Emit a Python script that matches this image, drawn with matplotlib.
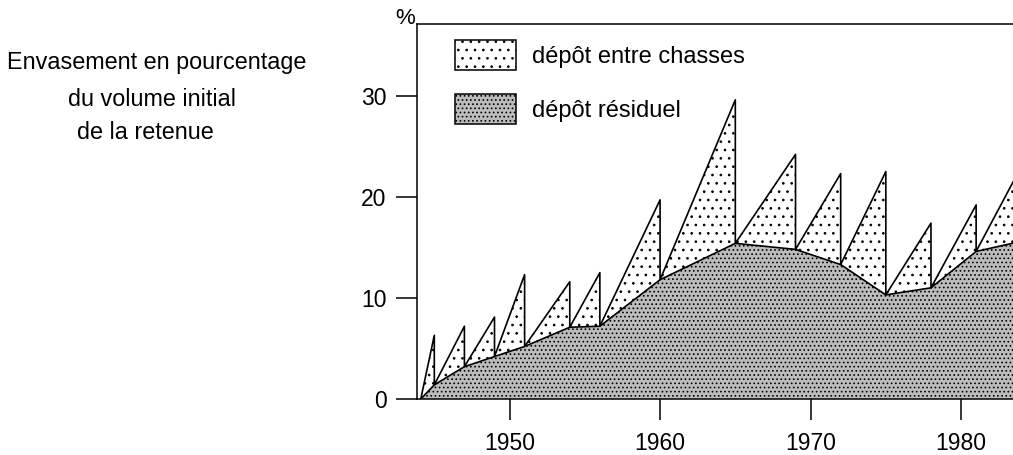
import matplotlib.pyplot as plt
from matplotlib.patches import Patch

# Envasement de la retenue : dépôt résiduel après chaque chasse et
# dépôt accumulé entre deux chasses (en % du volume initial)
start_year = 1944.1
flush_years = [1945, 1947, 1949, 1951, 1954, 1956, 1960, 1965, 1969, 1972, 1975, 1978, 1981, 1984]
peak = [6.3, 7.2, 8.1, 12.3, 11.6, 12.5, 19.7, 29.6, 24.2, 22.3, 22.5, 17.4, 19.2, 23.0]
residual = [1.4, 3.2, 4.2, 5.2, 7.1, 7.2, 11.8, 15.4, 14.8, 13.3, 10.3, 11.0, 14.6, 15.6]

year_ticks = [1950, 1960, 1970, 1980]
pct_ticks = [0, 10, 20, 30]

plt.rcParams['font.family'] = ['Liberation Sans', 'DejaVu Sans']
plt.rcParams['hatch.linewidth'] = 0.7

GREY = '#bcbcbc'

# courbe en dents de scie : montée jusqu'au pic puis chute à la chasse
saw_x = [start_year]
saw_y = [0.0]
for yr, p, r in zip(flush_years, peak, residual):
    saw_x += [yr, yr]
    saw_y += [p, r]

res_x = [start_year] + flush_years
res_y = [0.0] + residual

W, H = 1013, 455
fig = plt.figure(figsize=(W / 100, H / 100), dpi=100)
ax = fig.add_axes([417 / W, 56 / H, (W - 417) / W, 375 / H])

ax.fill_between(saw_x, 0, saw_y, facecolor='white', edgecolor='black',
                hatch='..', linewidth=0)
ax.fill_between(res_x, 0, res_y, facecolor=GREY, edgecolor='black',
                hatch='....', linewidth=0)
ax.plot(saw_x, saw_y, color='black', lw=1.2)
ax.plot(res_x, res_y, color='black', lw=1.2)

ax.set_xlim(1943.85, 1983.45)
ax.set_ylim(0, 37.1)
ax.set_xticks(year_ticks)
ax.set_yticks(pct_ticks)
ax.tick_params(direction='out', length=15, width=1.1, pad=7, labelsize=16.5)
ax.tick_params(axis='x', pad=9)
ax.spines['right'].set_visible(False)
for s in ['left', 'top', 'bottom']:
    ax.spines[s].set_linewidth(1.1)

handles = [
    Patch(facecolor='white', edgecolor='black', hatch='..', lw=1.1),
    Patch(facecolor=GREY, edgecolor='black', hatch='....', lw=1.1),
]
ax.legend(handles, ['dépôt entre chasses', 'dépôt résiduel'],
          loc='upper left', bbox_to_anchor=(455 / W, 1 - 40 / H),
          bbox_transform=fig.transFigure, frameon=False, fontsize=17,
          handlelength=2.6, handleheight=1.6, handletextpad=0.65,
          labelspacing=1.0, borderpad=0, borderaxespad=0)

fig.text(405 / W, 1 - 18 / H, '%', fontsize=16, ha='center', va='center')

fig.text(157 / W, 1 - 62 / H, 'Envasement en pourcentage', fontsize=16.8,
         ha='center', va='center')
fig.text(152 / W, 1 - 100 / H, 'du volume initial', fontsize=16.8,
         ha='center', va='center')
fig.text(145 / W, 1 - 132 / H, 'de la retenue', fontsize=16.8,
         ha='center', va='center')

fig.savefig('out.png', dpi=100)
